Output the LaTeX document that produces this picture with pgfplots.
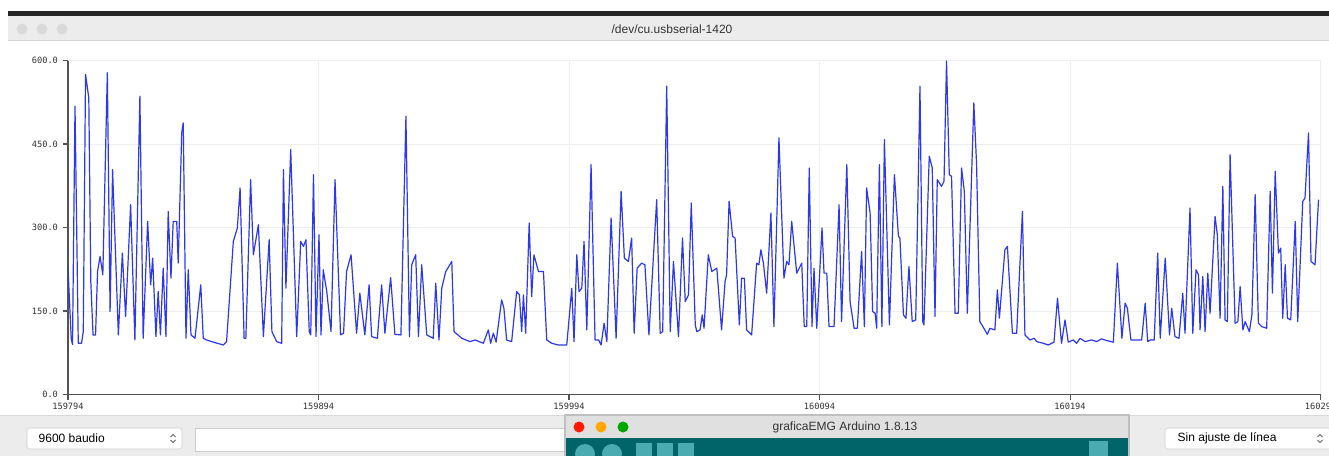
\documentclass[border=0pt]{standalone}
\usepackage{fontspec}
\setmainfont{Liberation Sans}
\setmonofont{DejaVu Sans Mono}
\usepackage{pgfplots}
\usepackage{pgfplotstable}
\pgfplotsset{compat=1.18}
\definecolor{emgblue}{RGB}{45,55,235}
\definecolor{barbg}{RGB}{236,236,236}
\definecolor{ardteal}{RGB}{0,100,104}
\definecolor{ardbtn}{RGB}{74,172,176}

\pgfplotstableread{
i v
0 227
1.3 100
1.8 90
2.8 518
4.1 92
5.4 92
6.1 113
7 575
8.3 533
9.1 203
10 107
11 107
11.8 221
12.8 248
13.9 215
15.7 578
16.8 149
17.8 404
20.1 107
21.7 254
23 140
25 341
26.7 98
28.7 536
30 101
31.8 311
33 197
33.8 245
35.1 104
36 185
36.9 107
38 227
39.1 104
40 329
41.1 209
42 311
43.4 311
44 236
45.4 470
46 488
47.1 101
48 224
49.1 107
50.7 101
53 197
54 101
55.3 98
58 94
62 89
63.3 95
66 275
67.6 299
68.7 371
70.3 101
71 101
72.9 386
74 251
76 305
78 104
80.3 278
81.4 113
83.3 95
85.3 92
86 404
87 191
88.9 440
91.3 104
92.9 275
94 266
95 278
96.3 113
96.9 107
98 395
99 104
100.2 287
101 107
101.9 224
103.3 185
105 113
106.6 386
108.8 107
110 110
111.2 221
113 251
115.2 110
116.5 182
118.5 107
120.2 197
121.2 104
123.5 101
125.2 197
126.5 110
128.8 210
130.5 108
132.9 107
134.9 500
136.3 104
137.2 233
138.8 251
139.9 104
141.2 233
143.2 107
145.8 101
146.8 200
148.1 98
149.2 191
150.8 221
153.2 239
154.1 113
157.2 101
160.5 95
162.5 98
165.8 92
167.8 116
168.7 92
169.8 110
170.9 94
173.1 170
174 155
175.1 98
177.1 95
179.1 185
180.2 179
181.1 113
181.8 179
182.7 110
184.1 308
185.1 176
186 251
187.8 221
189.8 221
191.1 98
193.1 92
195.7 89
199.1 89
201.1 191
202 95
203.1 251
204 185
205.1 191
206 275
207.1 116
208.8 413
210.4 98
211.8 98
212.8 89
214 128
215.1 95
216.8 317
218.8 101
220.8 365
222.1 245
223.7 239
225 281
226 110
227.2 227
229 236
230.3 233
231.9 107
235 350
236.4 110
237.4 113
239 554
240.4 113
241.7 239
243.7 104
245.3 281
246.4 167
247.7 179
248.8 344
250.4 125
251 113
252.3 116
253.2 143
253.9 119
255.6 251
257 221
259 227
260.9 116
262.3 203
262.9 215
263.9 347
265.3 284
266.3 281
268 125
268.9 209
270 209
270.9 116
272.9 107
274.9 236
275.8 233
276.6 260
277.6 236
278.9 182
280.6 326
281.8 122
283.8 461
285.8 209
286.9 239
287.8 233
288.9 311
290.9 218
292.9 236
293.9 122
294.9 122
295.9 407
297 122
297.8 227
298.9 119
301 299
301.8 218
302.9 218
303.8 122
305.8 122
307.8 341
308.8 131
310.9 413
312.2 167
313.8 119
315.1 119
316.8 257
317.9 122
318.8 371
320.2 326
321.2 149
322.2 146
322.8 119
323.9 413
324.9 122
325.9 458
327.9 125
329.9 395
331.5 284
332.1 281
333.5 143
334.5 137
335.7 230
337 131
338.4 134
340.1 554
341.2 131
341.7 125
343.8 428
345 407
346.1 140
347 386
348.7 374
349.7 383
350.7 599
351.8 395
352.7 392
354.1 146
355.4 146
356.7 407
357.8 365
359 146
361.6 524
362.7 413
364 131
366 116
367 108
368 119
370 116
371 188
371.8 137
374 260
375 266
377 110
378.7 110
381 329
382 107
384 98
385.7 101
386.7 95
389.3 92
391.3 89
393.6 94
395 173
396.6 92
398 134
399.3 94
401.3 98
402.6 92
404 101
406 95
408.6 98
410.6 95
412.6 100
414.6 97
417.3 94
418.9 236
420.7 101
422 164
422.9 155
424.3 98
426.6 98
428.6 98
430 164
431 95
432 98
433.6 98
435 254
436 101
438 245
439.7 107
440.6 155
441.9 104
443.5 101
445 182
445.9 110
447.9 335
449 110
450.3 224
451.3 215
451.9 116
453 212
453.9 113
455 218
455.9 146
457.9 320
458.8 287
459.9 137
461 374
461.9 134
462.8 131
463.9 431
465.9 128
467 131
467.9 194
469 116
469.9 131
471.6 113
472.6 143
473.9 359
475.2 128
476.5 122
478.5 119
479.9 365
480.8 182
481.9 401
483.2 254
484.1 263
484.9 137
485.9 233
486.8 137
488.1 134
489.9 311
490.9 131
492.9 347
493.8 353
495.2 470
496.2 239
497.8 233
499.2 350
}\emg

\newcommand{\chev}[2]{%
  \draw[gray!80!black, line width=0.6pt] (#1-2.5,#2-1.5)--(#1,#2-4)--(#1+2.5,#2-1.5);
  \draw[gray!80!black, line width=0.6pt] (#1-2.5,#2+1.5)--(#1,#2+4)--(#1+2.5,#2+1.5);}

\begin{document}
\begin{tikzpicture}
\path[use as bounding box] (0pt,0pt) rectangle (996.75pt,-342pt);
\begin{scope}[x=0.75pt,y=-0.75pt]
  \fill[white] (0,0) rectangle (1329,456);
  % top window chrome
  \fill[black!85] (8,11) rectangle (1329,16);
  \fill[barbg] (8,16) rectangle (1329,40);
  \draw[gray!35] (8,40.5) -- (1329,40.5);
  \foreach \cx in {22,42,62} \fill[gray!30] (\cx,29) circle (5.5);
  \node[font=\fontsize{9}{10}\selectfont, text=black!80] at (672,29) {/dev/cu.usbserial-1420};
\end{scope}

\begin{axis}[
  at={(51pt,-295.875pt)}, anchor=south west,
  scale only axis, width=939.4pt, height=250.5pt,
  xmin=0, xmax=500, ymin=0, ymax=600,
  axis lines*=left,
  axis line style={gray!65!black, line width=1pt},
  xtick={0,100,200,300,400,500},
  xticklabels={159794,159894,159994,160094,160194,160294},
  ytick={0,150,300,450,600},
  yticklabels={0.0,150.0,300.0,450.0,600.0},
  tick style={gray!65!black, line width=0.8pt},
  major tick length=4pt,
  tick align=outside,
  grid=major,
  grid style={gray!13, line width=0.6pt},
  ticklabel style={font=\ttfamily\fontsize{6.5}{7}\selectfont, text=black!80},
  xticklabel style={yshift=1pt},
  clip=true,
]
\addplot[color=emgblue, line width=0.9pt, line join=round] table[x=i, y=v] {\emg};
\end{axis}

\begin{scope}[x=0.75pt,y=-0.75pt]
  % bottom bar
  \fill[barbg] (0,415) rectangle (1329,456);
  \draw[gray!30] (0,415) -- (1329,415);
  \draw[gray!40, fill=white, rounded corners=2pt] (27,428) rectangle (182,449);
  \node[anchor=west, font=\fontsize{9}{10}\selectfont] at (34,438.5) {9600 baudio};
  \chev{173}{438.5}
  \draw[gray!40, fill=white] (195,428) rectangle (566,451);
  \draw[gray!40, fill=white, rounded corners=2pt] (1165,428) rectangle (1335,449);
  \node[anchor=west, font=\fontsize{9}{10}\selectfont] at (1173,438.5) {Sin ajuste de línea};
  \chev{1320}{438.5}
  % overlapping Arduino window
  \fill[gray!50] (564,414) rectangle (1130,456);
  \fill[barbg!95!black] (566,416) rectangle (1128,438);
  \fill[ardteal] (566,438) rectangle (1128,456);
  \fill[red!80!orange] (579,427) circle (5.5);
  \fill[orange!70!yellow] (601,427) circle (5.5);
  \fill[green!65!black] (623,427) circle (5.5);
  \node[font=\fontsize{9}{10}\selectfont, text=black!80] at (845,427) {graficaEMG Arduino 1.8.13};
  \fill[ardbtn] (585,454) circle (10);
  \fill[ardbtn] (612,454) circle (10);
  \fill[ardbtn] (636,443) rectangle (652,460);
  \fill[ardbtn] (657,443) rectangle (673,460);
  \fill[ardbtn] (678,443) rectangle (694,460);
  \fill[ardbtn] (1089,441) rectangle (1108,460);
\end{scope}
\end{tikzpicture}
\end{document}
